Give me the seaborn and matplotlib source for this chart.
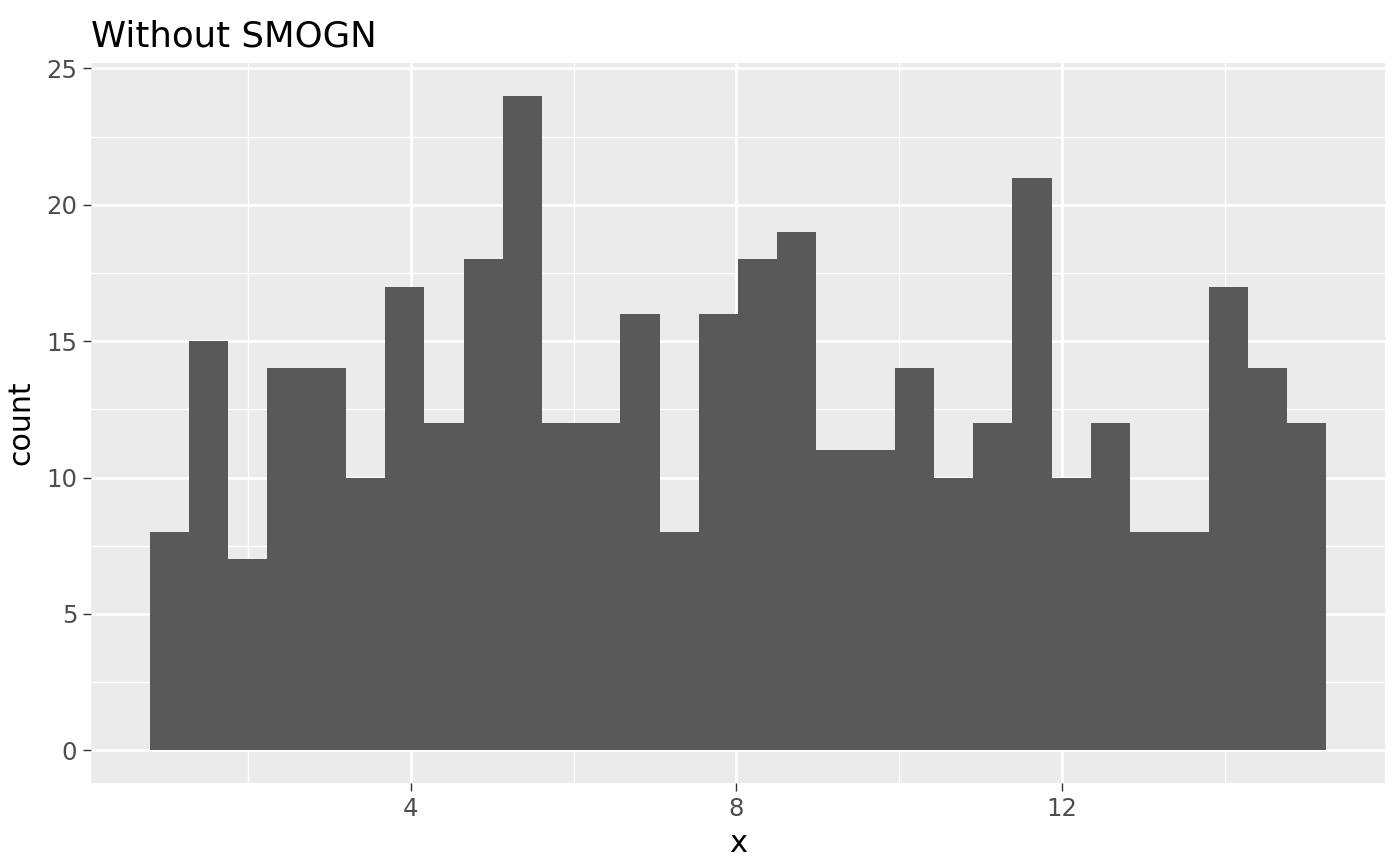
import numpy as np
import pandas as pd
import matplotlib
matplotlib.use('Agg')
import matplotlib.pyplot as plt
import seaborn as sns

# --- DATA (30 bins) ---
BIN_START = 0.798
BIN_WIDTH = 0.4814
counts = [8, 15, 7, 14, 14, 10, 17, 12, 18, 24,
          12, 12, 16, 8, 16, 18, 19, 11, 11, 14,
          10, 12, 21, 10, 12, 8, 8, 17, 14, 12]
x_ticks = [4, 8, 12]
x_minor = [2, 6, 10, 14]
y_ticks = [0, 5, 10, 15, 20, 25]
y_minor = [2.5, 7.5, 12.5, 17.5, 22.5]

edges = BIN_START + BIN_WIDTH * np.arange(len(counts) + 1)
df = pd.DataFrame({'x': (edges[:-1] + edges[1:]) / 2, 'count': counts})

# --- ggplot-like theme ---
sns.set_theme(style='darkgrid', rc={
    'axes.facecolor': '#EBEBEB',
    'grid.color': 'white',
    'axes.edgecolor': '#EBEBEB',
})
plt.rcParams['font.family'] = ['DejaVu Sans']

fig = plt.figure(figsize=(7, 4.33), dpi=200)
ax = fig.add_axes([91 / 1400, 1 - 783 / 866, (1385 - 91) / 1400, (783 - 63) / 866])

sns.histplot(data=df, x='x', weights='count', bins=edges.tolist(), ax=ax,
             color='#595959', alpha=1, edgecolor='none', linewidth=0)

span = edges[-1] - edges[0]
ax.set_xlim(edges[0] - 0.05 * span, edges[-1] + 0.05 * span)
ax.set_ylim(-0.05 * max(counts), max(counts) * 1.05)

ax.set_xticks(x_ticks)
ax.set_xticks(x_minor, minor=True)
ax.set_yticks(y_ticks)
ax.set_yticks(y_minor, minor=True)
ax.grid(which='major', color='white', linewidth=1.0)
ax.grid(which='minor', color='white', linewidth=0.5)
ax.set_axisbelow(True)
for s in ax.spines.values():
    s.set_visible(False)

ax.tick_params(axis='both', which='major', length=2.75, width=0.5, color='#333333',
               labelsize=8.8, labelcolor='#4D4D4D', pad=2.2, bottom=True, left=True)
ax.tick_params(axis='both', which='minor', length=0)

ax.set_xlabel('x', fontsize=11, color='black', labelpad=3)
ax.set_ylabel('count', fontsize=10.8, color='black', labelpad=4)
ax.set_title('Without SMOGN', fontsize=12.8, color='black', loc='left', x=0, pad=6)

fig.savefig('out.png', dpi=200, facecolor='white')
